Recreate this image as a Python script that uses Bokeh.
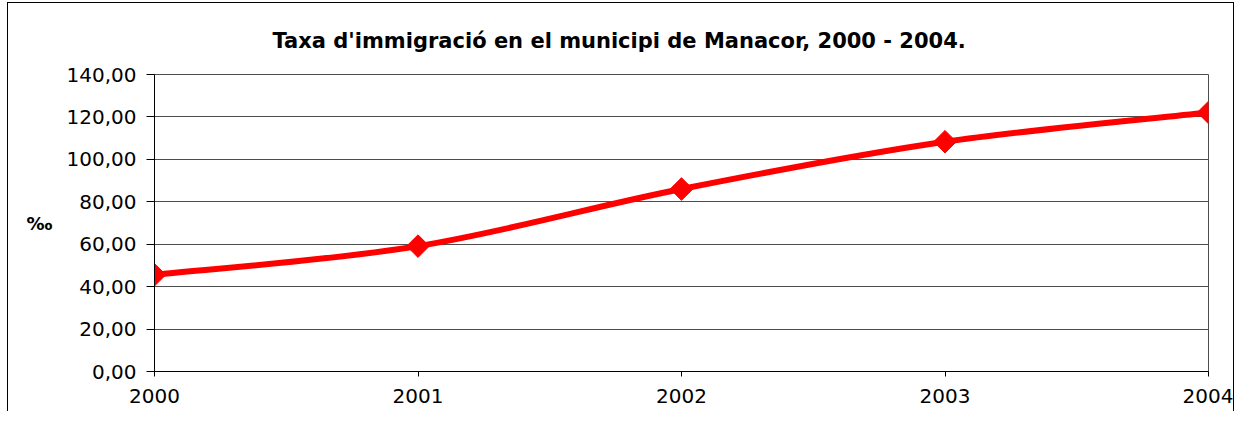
import numpy as np
from bokeh.plotting import figure
from bokeh.layouts import column
from bokeh.models import Range1d, FixedTicker
from bokeh.embed import file_html
from bokeh.resources import INLINE

# ---- data ----
years = [2000, 2001, 2002, 2003, 2004]
rates = [45.6, 59.1, 86.0, 108.3, 122.1]
y_ticks = [0, 20, 40, 60, 80, 100, 120, 140]
y_tick_labels = ["0,00", "20,00", "40,00", "60,00", "80,00", "100,00", "120,00", "140,00"]
x_tick_labels = ["2000", "2001", "2002", "2003", "2004"]
title_text = "Taxa d'immigració en el municipi de Manacor, 2000 - 2004."
y_label = "‰"

FONT = "DejaVu Sans"

p = figure(frame_width=1052, frame_height=296,
           x_range=Range1d(2000, 2004), y_range=Range1d(0, 140),
           output_backend="svg", toolbar_location=None,
           min_border_left=146, min_border_right=27,
           min_border_top=71, min_border_bottom=41)
p.styles = {"border-top": "1px solid black", "border-left": "1px solid black",
            "border-right": "1px solid black"}
p.background_fill_color = "white"
p.border_fill_color = "white"
p.outline_line_color = "#4d4d4d"
p.outline_line_width = 1

# title
p.title.text = title_text
p.title.align = "left"
p.title.offset = 118
p.title.standoff = 43
p.title.text_font = FONT
p.title.text_font_style = "bold"
p.title.text_font_size = "21px"
p.title.text_color = "black"

# axes
p.xaxis.ticker = FixedTicker(ticks=years)
p.xaxis.major_label_overrides = {y: l for y, l in zip(years, x_tick_labels)}
p.yaxis.ticker = FixedTicker(ticks=y_ticks)
p.yaxis.major_label_overrides = {t: l for t, l in zip(y_ticks, y_tick_labels)}
for ax in (p.xaxis, p.yaxis):
    ax.axis_line_color = "black"
    ax.axis_line_width = 1
    ax.major_tick_line_color = "black"
    ax.minor_tick_line_color = None
    ax.major_tick_in = 0
    ax.major_label_text_font = FONT
    ax.major_label_text_font_size = "20px"
    ax.major_label_text_color = "black"
p.xaxis.major_tick_out = 5
p.yaxis.major_tick_out = 8
p.xaxis.major_label_standoff = 12
p.yaxis.major_label_standoff = 10

p.yaxis.axis_label = y_label
p.yaxis.axis_label_orientation = "horizontal"
p.yaxis.axis_label_text_font = FONT
p.yaxis.axis_label_text_font_style = "bold"
p.yaxis.axis_label_text_font_size = "18px"
p.yaxis.axis_label_text_color = "black"
p.yaxis.axis_label_standoff = 11

p.xgrid.grid_line_color = None
p.ygrid.grid_line_color = "#4d4d4d"
p.ygrid.grid_line_width = 1

# smoothed line (Catmull-Rom style bezier through the data points)
xs = np.array(years, dtype=float)
ys = np.array(rates, dtype=float)
n = len(xs)
idx = np.arange(n - 1)
prev = np.clip(idx - 1, 0, n - 1)
nxt2 = np.clip(idx + 2, 0, n - 1)
cx0 = xs[idx] + (xs[idx + 1] - xs[prev]) / 6
cy0 = ys[idx] + (ys[idx + 1] - ys[prev]) / 6
cx1 = xs[idx + 1] - (xs[nxt2] - xs[idx]) / 6
cy1 = ys[idx + 1] - (ys[nxt2] - ys[idx]) / 6
p.bezier(x0=xs[:-1], y0=ys[:-1], x1=xs[1:], y1=ys[1:],
         cx0=cx0, cy0=cy0, cx1=cx1, cy1=cy1,
         line_color="#ff0000", line_width=6, line_cap="round")
p.scatter(x=years, y=rates, marker="square", angle=np.pi / 4, size=16,
          fill_color="#ff0000", line_color="#ff0000")

root = column(p, styles={"padding-top": "2px", "padding-left": "7px"})

open("out.html", "w").write(file_html(root, INLINE))
